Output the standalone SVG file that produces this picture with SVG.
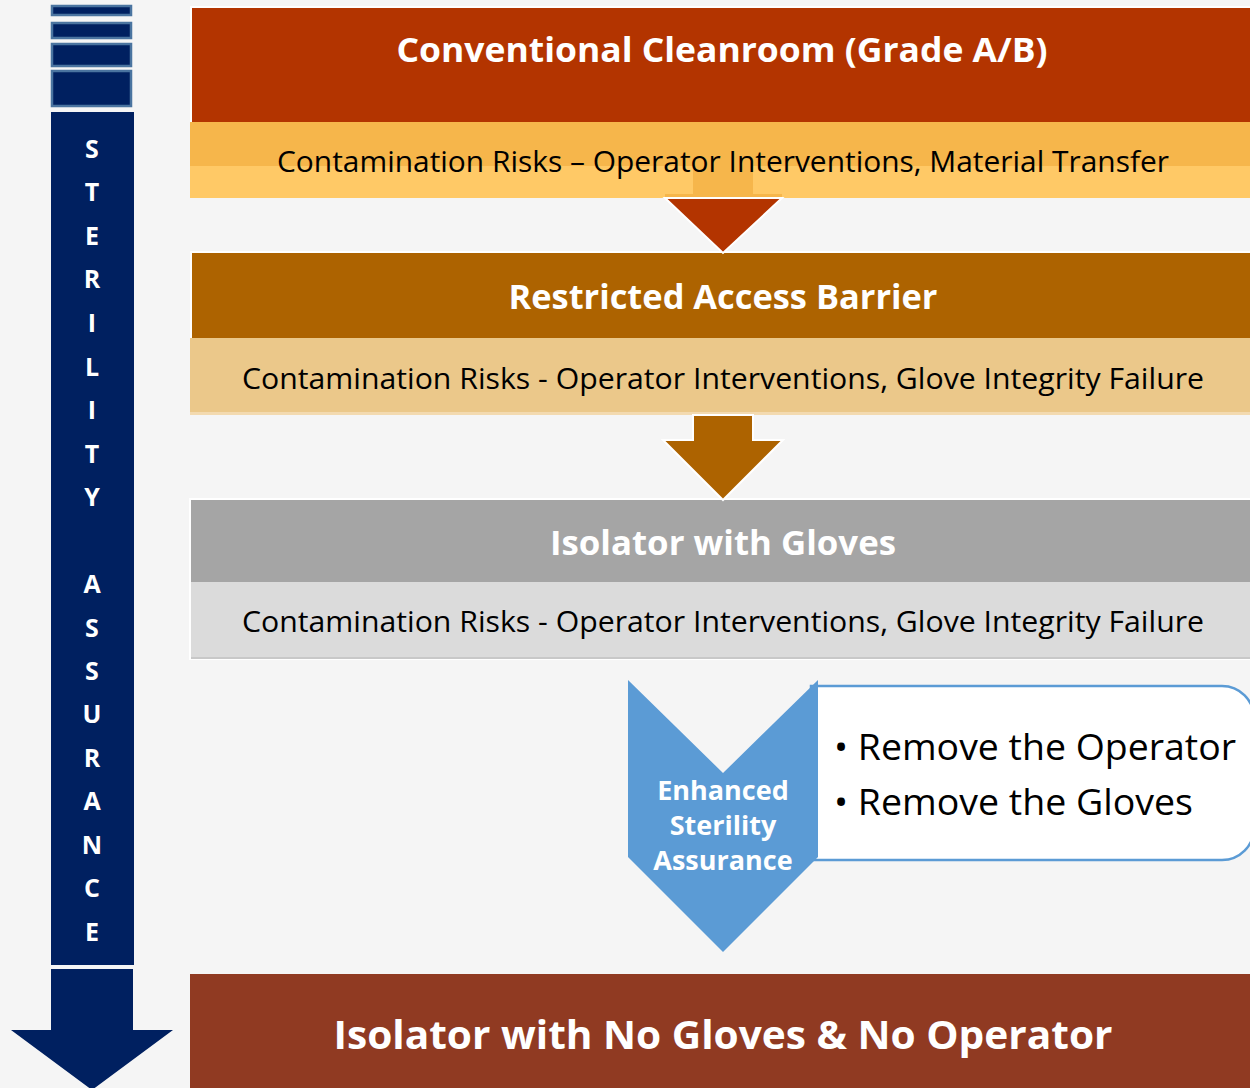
<svg xmlns="http://www.w3.org/2000/svg" width="1250" height="1088" viewBox="0 0 1250 1088">
<style>
.hd{font-family:"Open Sans","Noto Sans",sans-serif;font-weight:bold;fill:#fff;text-anchor:middle}
.bd{font-family:"Open Sans","Noto Sans",sans-serif;fill:#000;text-anchor:middle}
.lt{font-family:"Open Sans","Noto Sans",sans-serif;font-weight:bold;fill:#fff;text-anchor:middle;font-size:25px}
.stripe{fill:#002060;stroke:#4A74A0;stroke-width:2.5}
</style>
<rect width="1250" height="1088" fill="#F5F5F5"/>
<g id="sterility-bar">
<rect class="stripe" x="52" y="6" width="79" height="9"/>
<rect class="stripe" x="52" y="23" width="79" height="15"/>
<rect class="stripe" x="52" y="44" width="79" height="22"/>
<rect class="stripe" x="52" y="71" width="79" height="35"/>
<rect x="51" y="112" width="83" height="853" fill="#002060"/>
<path d="M51,969 H133 V1030 H173 L92,1090 L11,1030 H51 Z" fill="#002060"/>
<text class="lt" x="92" y="158">S</text>
<text class="lt" x="92" y="201">T</text>
<text class="lt" x="92" y="245">E</text>
<text class="lt" x="92" y="288">R</text>
<text class="lt" x="92" y="332">I</text>
<text class="lt" x="92" y="376">L</text>
<text class="lt" x="92" y="419">I</text>
<text class="lt" x="92" y="463">T</text>
<text class="lt" x="92" y="506">Y</text>
<text class="lt" x="92" y="593">A</text>
<text class="lt" x="92" y="637">S</text>
<text class="lt" x="92" y="680">S</text>
<text class="lt" x="92" y="723">U</text>
<text class="lt" x="92" y="767">R</text>
<text class="lt" x="92" y="810">A</text>
<text class="lt" x="92" y="854">N</text>
<text class="lt" x="92" y="897">C</text>
<text class="lt" x="92" y="941">E</text>
</g>
<g id="conventional-cleanroom">
<rect x="190" y="6" width="1062" height="192" fill="#fff"/>
<rect x="192" y="8" width="1060" height="114" fill="#B33400"/>
<rect x="190" y="122" width="1062" height="44" fill="#F6B64B"/>
<rect x="190" y="166" width="1062" height="32" fill="#FFC966"/>
<text class="hd" x="722" y="62" font-size="34" textLength="651" lengthAdjust="spacingAndGlyphs">Conventional Cleanroom (Grade A/B)</text>
</g>
<g id="restricted-access-barrier">
<rect x="190" y="251" width="1062" height="164" fill="#fff"/>
<rect x="192" y="253" width="1060" height="85" fill="#AD6300"/>
<rect x="190" y="338" width="1062" height="74" fill="#EBC88A"/>
<rect x="190" y="412" width="1062" height="3" fill="#F3DAB0"/>
<text class="hd" x="723" y="309" font-size="34" textLength="429" lengthAdjust="spacingAndGlyphs">Restricted Access Barrier</text>
<text class="bd" x="723" y="389" font-size="30" textLength="962" lengthAdjust="spacingAndGlyphs">Contamination Risks - Operator Interventions, Glove Integrity Failure</text>
</g>
<g id="isolator-with-gloves">
<rect x="189" y="498" width="1063" height="162" fill="#fff"/>
<rect x="191" y="500" width="1061" height="82" fill="#A5A5A5"/>
<rect x="191" y="582" width="1061" height="75" fill="#DBDBDB"/>
<rect x="191" y="657" width="1061" height="2" fill="#C8C8C8"/>
<text class="hd" x="723" y="555" font-size="34" textLength="346" lengthAdjust="spacingAndGlyphs">Isolator with Gloves</text>
<text class="bd" x="723" y="632" font-size="30" textLength="962" lengthAdjust="spacingAndGlyphs">Contamination Risks - Operator Interventions, Glove Integrity Failure</text>
</g>
<g id="connectors">
<rect x="693" y="166" width="60" height="31" fill="#F6B64B"/>
<rect x="665" y="194" width="117" height="4" fill="#F6B64B"/>
<path d="M665,198 H782 L723,253 Z" fill="#B33400" stroke="#fff" stroke-width="2"/>
<path d="M693,415 H753 V440 H783 L723,500 L663,440 H693 Z" fill="#AD6300" stroke="#fff" stroke-width="2"/>
</g>
<g id="contamination-label-1">
<text class="bd" x="723" y="172" font-size="30" textLength="892" lengthAdjust="spacingAndGlyphs">Contamination Risks – Operator Interventions, Material Transfer</text>
</g>
<g id="remove-list">
<path d="M811,686 H1222 A32,32 0 0 1 1254,718 V828 A32,32 0 0 1 1222,860 H811 Z" fill="#fff" stroke="#5B9BD5" stroke-width="2.5"/>
<text font-family="Open Sans, Noto Sans, sans-serif" font-size="37" fill="#000" x="834" y="760" textLength="402" lengthAdjust="spacingAndGlyphs">• Remove the Operator</text>
<text font-family="Open Sans, Noto Sans, sans-serif" font-size="37" fill="#000" x="834" y="815" textLength="359" lengthAdjust="spacingAndGlyphs">• Remove the Gloves</text>
</g>
<g id="enhanced-sterility">
<path d="M628,680 L723,773 L818,680 V857 L723,952 L628,857 Z" fill="#5B9BD5"/>
<text class="hd" x="723" y="800" font-size="27">Enhanced</text>
<text class="hd" x="723" y="835" font-size="27">Sterility</text>
<text class="hd" x="723" y="870" font-size="27">Assurance</text>
</g>
<g id="isolator-no-gloves">
<rect x="190" y="974" width="1062" height="116" fill="#903A22"/>
<text class="hd" x="723" y="1049" font-size="40" textLength="779" lengthAdjust="spacingAndGlyphs">Isolator with No Gloves &amp; No Operator</text>
</g>
</svg>
